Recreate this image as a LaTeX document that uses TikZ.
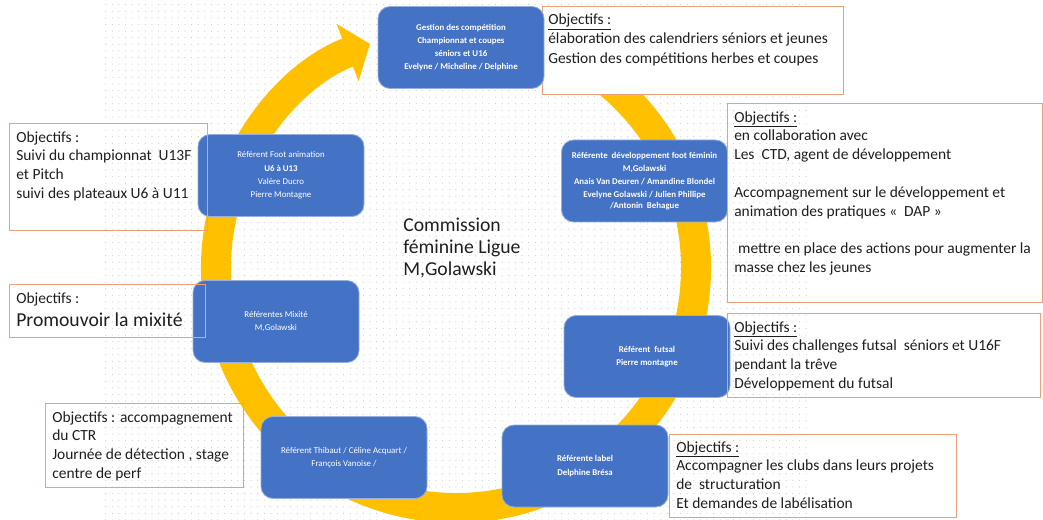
\documentclass[tikz,border=0pt]{standalone}
\usepackage{fontspec}
\setmainfont{Carlito}
\usepackage{tikz}
\usetikzlibrary{arrows.meta,positioning,patterns.meta}
\definecolor{ringgold}{RGB}{255,192,0}
\definecolor{boxblue}{RGB}{68,114,196}
\definecolor{boxedge}{RGB}{150,175,222}
\definecolor{objedge}{RGB}{236,160,122}
\definecolor{objink}{RGB}{30,30,30}

\begin{document}
\begin{tikzpicture}[
    referent/.style={rectangle, draw=boxedge, line width=0.6pt, fill=boxblue, rounded corners=0.3cm, minimum width=4.15cm, minimum height=2.05cm, text=white, align=center, font=\fontsize{6.3}{9.4}\selectfont},
    boldref/.style={referent, font=\fontsize{6.3}{9.4}\selectfont\bfseries},
    objframe/.style={rectangle, draw=objedge, line width=0.7pt, anchor=north west, inner sep=0pt},
    objtext/.style={inner sep=0pt, align=left, text=objink, font=\fontsize{11}{13.4}\selectfont}
]
\useasboundingbox (0,0) rectangle (26.075,-13);

% dotted backdrop
\fill[pattern={Dots[distance=4.7pt, radius=0.4pt]}, pattern color=gray!45] (2.625,0) rectangle (20.25,-13);

% the yellow ring
\coordinate (hub) at (11.4,-6.7);
\draw[ringgold, line width=0.75cm, -{Triangle[length=0.6cm, width=1.5cm]}] ([shift={(80:6)}]hub) arc[start angle=80, end angle=-249, radius=6];

\node[objframe, fill=white, minimum width=7.525cm, minimum height=2.2cm] (objA) at (13.55,-0.15) {};

\node[boldref] (compet) at (11.525,-1.1875) {Gestion des compétition\\Championnat et coupes\\séniors et U16\\Evelyne / Micheline / Delphine};
\node[boldref] (devfem) at (16.1125,-4.525) {Référente~~développement foot féminin\\M,Golawski\\Anais Van Deuren / Amandine Blondel\\Evelyne Golawski / Julien Phillipe\\[-2pt]/Antonin~~Behague};
\node[boldref] (futsal) at (16.175,-8.9125) {Référent~~futsal\\Pierre montagne};
\node[boldref] (label) at (14.625,-11.65) {Référente label\\Delphine Brésa};
\node[referent] (detection) at (8.6,-11.4375) {Référent Thibaut / Céline Acquart /\\François Vanoise /};
\node[referent] (mixite) at (6.9,-8.0375) {Référentes Mixité\\M,Golawski};
\node[referent] (animation) at (7.025,-4.3875) {Référent Foot animation\\\textbf{U6 à U13}\\Valère Ducro\\Pierre Montagne};

\node[anchor=north west, align=left, inner sep=0pt, text=objink, font=\fontsize{14}{15.5}\selectfont] (commission) at (10.075,-5.45) {Commission\\féminine Ligue\\M,Golawski};

% objectives
\node[objtext, font=\fontsize{11}{14}\selectfont, below right=0.18cm and 0.15cm of objA.north west] (txtA) {\underline{Objectifs :}\\élaboration des calendriers séniors et jeunes\\Gestion des compétitions herbes et coupes};

\node[objframe, minimum width=7.875cm, minimum height=4.975cm] (objB) at (18.175,-2.575) {};
\node[objtext, below right=0.2cm and 0.175cm of objB.north west] (txtB) {\underline{Objectifs :}\\en collaboration avec\\Les~~CTD, agent de développement\\[13.4pt]Accompagnement sur le développement et\\animation des pratiques «~~DAP~»\\[13.4pt]\hspace{0.25em}mettre en place des actions pour augmenter la\\masse chez les jeunes};

\node[objframe, minimum width=7.825cm, minimum height=2.1cm] (objC) at (18.175,-7.825) {};
\node[objtext, below right=0.2cm and 0.175cm of objC.north west] (txtC) {\underline{Objectifs :}\\Suivi des challenges futsal~~séniors et U16F\\pendant la trêve\\Développement du futsal};

\node[objframe, minimum width=7.175cm, minimum height=2.075cm] (objD) at (16.725,-10.85) {};
\node[objtext, below right=0.175cm and 0.175cm of objD.north west] (txtD) {\underline{Objectifs :}\\Accompagner les clubs dans leurs projets\\de~~structuration\\Et demandes de labélisation};

\node[objframe, minimum width=4.95cm, minimum height=2.675cm] (objE) at (0.225,-3.075) {};
\node[objtext, below right=0.2cm and 0.175cm of objE.north west] (txtE) {Objectifs :\\Suivi du championnat~~U13F\\et Pitch\\suivi des plateaux U6 à U11};

\node[objframe, minimum width=4.9cm, minimum height=1.325cm] (objF) at (0.225,-7.1) {};
\node[objtext, below right=0.2cm and 0.175cm of objF.north west] (txtF) {Objectifs :\\[3pt]{\fontsize{14}{17}\selectfont Promouvoir la mixité}};

\node[objframe, minimum width=4.95cm, minimum height=2.1cm] (objG) at (1.125,-10.075) {};
\node[objtext, below right=0.2cm and 0.175cm of objG.north west] (txtG) {Objectifs : accompagnement\\du CTR\\Journée de détection , stage\\centre de perf};

\end{tikzpicture}
\end{document}
